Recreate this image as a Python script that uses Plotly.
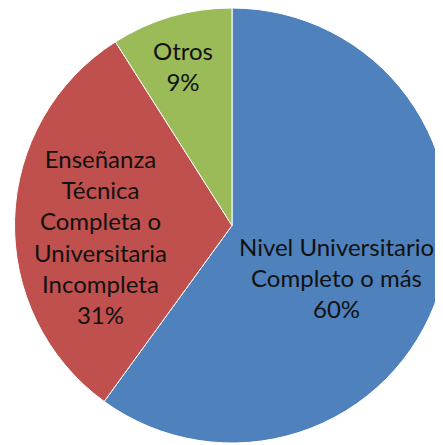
import plotly.graph_objects as go

labels = ["Nivel Universitario Completo o más",
          "Enseñanza Técnica Completa o Universitaria Incompleta",
          "Otros"]
values = [60, 31, 9]
colors = ["#4F81BD", "#C0504D", "#9BBB59"]

# label text (with line breaks) and where it sits in the window, in pixels
label_text = ["Nivel Universitario<br>Completo o más<br>60%",
              "Enseñanza<br>Técnica<br>Completa o<br>Universitaria<br>Incompleta<br>31%",
              "Otros<br>9%"]
label_px = [(336, 277), (100, 236), (183, 66)]

BODY = 8  # default body margin of the html page
W, H = 452, 437  # a little wider than the window: the pie runs off the right edge


def to_paper(px, py):
    return (px - BODY) / W, 1 - (py - BODY) / H


fig = go.Figure(go.Pie(
    labels=labels,
    values=values,
    sort=False,
    direction="clockwise",
    rotation=0,
    marker=dict(colors=colors, line=dict(color="white", width=1)),
    textinfo="none",
    hoverinfo="label+percent",
    domain=dict(x=[4 / W, 444 / W], y=[1 - 435 / H, 1]),
    showlegend=False,
))

for txt, (px, py) in zip(label_text, label_px):
    x, y = to_paper(px, py)
    fig.add_annotation(
        x=x, y=y, xref="paper", yref="paper",
        text=txt, showarrow=False,
        xanchor="center", yanchor="middle",
        font=dict(family="Lato, Noto Sans, sans-serif", size=24, color="#111111"),
    )

fig.update_layout(
    width=W, height=H, autosize=False,
    margin=dict(l=0, r=0, t=0, b=0),
    paper_bgcolor="white",
    plot_bgcolor="white",
)

fig.write_html("out.html")
